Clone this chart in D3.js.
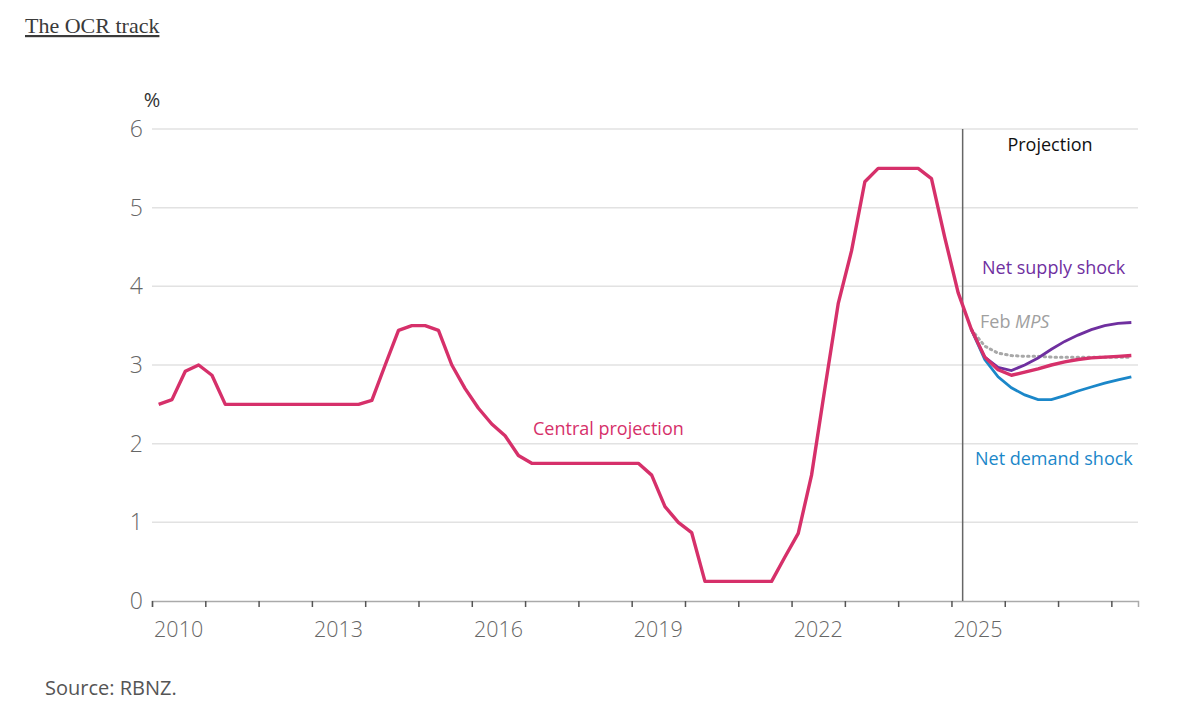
<!DOCTYPE html>
<html>
<head>
<meta charset="utf-8">
<script src="https://cdn.jsdelivr.net/npm/d3@7.9.0/dist/d3.min.js"></script>
<style>
  body { margin: 0; background: #fff; }
  svg { display: block; }
</style>
</head>
<body>
<div class="container"></div>
<script>
const width = 1203, height = 702;

// quarterly OCR, 2010 Q1 .. 2028 Q2 (central projection)
const startYear = 2010;
const central = [
  2.50, 2.56, 2.92, 3.00,   // 2010
  2.87, 2.50, 2.50, 2.50,   // 2011
  2.50, 2.50, 2.50, 2.50,   // 2012
  2.50, 2.50, 2.50, 2.50,   // 2013
  2.55, 3.00, 3.44, 3.50,   // 2014
  3.50, 3.44, 3.00, 2.70,   // 2015
  2.45, 2.25, 2.10, 1.85,   // 2016
  1.75, 1.75, 1.75, 1.75,   // 2017
  1.75, 1.75, 1.75, 1.75,   // 2018
  1.75, 1.60, 1.20, 1.00,   // 2019
  0.87, 0.25, 0.25, 0.25,   // 2020
  0.25, 0.25, 0.25, 0.56,   // 2021
  0.86, 1.60, 2.70, 3.78,   // 2022
  4.45, 5.33, 5.50, 5.50,   // 2023
  5.50, 5.50, 5.37, 4.62,   // 2024
  3.92, 3.45, 3.10, 2.94,   // 2025
  2.87, 2.91, 2.95, 3.00,   // 2026
  3.04, 3.07, 3.09, 3.10,   // 2027
  3.11, 3.12                // 2028
];

// scenarios, 2025 Q2 .. 2028 Q2
const scenarioStart = 61;
const supplyShock = [3.45, 3.10, 2.97, 2.93, 3.00, 3.09, 3.20, 3.30, 3.38, 3.45, 3.50, 3.53, 3.54];
const demandShock = [3.45, 3.07, 2.85, 2.71, 2.62, 2.56, 2.56, 2.61, 2.67, 2.72, 2.77, 2.81, 2.85];
const febMPS      = [3.45, 3.24, 3.15, 3.12, 3.11, 3.11, 3.10, 3.10, 3.10, 3.10, 3.10, 3.10, 3.10];

const projectionStart = 2025.21;
const yearTicks = d3.range(2010, 2029);
const yearLabels = [2010, 2013, 2016, 2019, 2022, 2025];
const yTicks = [0, 1, 2, 3, 4, 5, 6];

// quarter index -> mid-quarter date
const qDate = i => startYear + i / 4 + 0.125;
const toPoints = (vals, offset) => vals.map((v, i) => ({ t: qDate(i + offset), v: v }));

const svg = d3.select(".container").append("svg")
  .attr("width", width)
  .attr("height", height);

const x = d3.scaleLinear().domain([2010, 2028.5]).range([152, 1138]);
const y = d3.scaleLinear().domain([0, 6]).range([601, 129]);

const sans = "'Open Sans', 'Noto Sans', sans-serif";

// title
svg.append("text")
  .attr("x", 25).attr("y", 33)
  .attr("font-family", "'Liberation Serif', serif")
  .attr("font-size", 22)
  .attr("fill", "#3a3a3a")
  .attr("text-decoration", "underline")
  .text("The OCR track");

// gridlines
svg.append("g")
  .selectAll("line")
  .data(yTicks.filter(d => d > 0))
  .enter().append("line")
  .attr("x1", x(2010)).attr("x2", x(2028.5))
  .attr("y1", d => y(d)).attr("y2", d => y(d))
  .attr("stroke", "#e2e2e2")
  .attr("stroke-width", 1.5);

// y axis labels
const yAxis = svg.append("g")
  .attr("transform", `translate(${x(2010) - 9},0)`)
  .call(d3.axisLeft(y).tickValues(yTicks).tickSize(0).tickFormat(d3.format("d")));
yAxis.select(".domain").remove();
yAxis.selectAll("text")
  .attr("font-family", sans)
  .attr("font-size", 23)
  .attr("font-weight", 300)
  .attr("fill", "#666")
  .attr("x", 0);

svg.append("text")
  .attr("x", 152).attr("y", 107)
  .attr("text-anchor", "middle")
  .attr("font-family", sans)
  .attr("font-size", 20)
  .attr("fill", "#333")
  .text("%");

// x axis ticks
const xAxis = svg.append("g")
  .attr("transform", `translate(0,${y(0)})`)
  .call(d3.axisBottom(x).tickValues(yearTicks).tickSize(6).tickFormat(""));
xAxis.select(".domain").attr("stroke", "#aaa").attr("stroke-width", 1.5);
xAxis.selectAll(".tick line").attr("stroke", "#555").attr("stroke-width", 1.5);

// x labels centred in the year
svg.append("g")
  .selectAll("text")
  .data(yearLabels)
  .enter().append("text")
  .attr("x", d => x(d + 0.5))
  .attr("y", 637)
  .attr("text-anchor", "middle")
  .attr("font-family", sans)
  .attr("font-size", 21.5)
  .attr("font-weight", 300)
  .attr("fill", "#666")
  .text(d => d);

// projection divider
svg.append("line")
  .attr("x1", x(projectionStart)).attr("x2", x(projectionStart))
  .attr("y1", y(6)).attr("y2", y(0))
  .attr("stroke", "#666")
  .attr("stroke-width", 1.5);

const line = d3.line().x(d => x(d.t)).y(d => y(d.v));

svg.append("path")
  .datum(toPoints(febMPS, scenarioStart))
  .attr("d", line)
  .attr("fill", "none")
  .attr("stroke", "#a8a8a8")
  .attr("stroke-width", 3)
  .attr("stroke-dasharray", "1.5 4")
  .attr("stroke-linecap", "round");

svg.append("path")
  .datum(toPoints(supplyShock, scenarioStart))
  .attr("d", line)
  .attr("fill", "none")
  .attr("stroke", "#6f2f9f")
  .attr("stroke-width", 2.8);

svg.append("path")
  .datum(toPoints(demandShock, scenarioStart))
  .attr("d", line)
  .attr("fill", "none")
  .attr("stroke", "#1b87c9")
  .attr("stroke-width", 2.8);

svg.append("path")
  .datum(toPoints(central, 0))
  .attr("d", line)
  .attr("fill", "none")
  .attr("stroke", "#d6306a")
  .attr("stroke-width", 3.4)
  .attr("stroke-linejoin", "round");

// labels
const lbl = (tx, ty, txt, col, anchor) => svg.append("text")
  .attr("x", tx).attr("y", ty)
  .attr("text-anchor", anchor || "start")
  .attr("font-family", sans)
  .attr("font-size", 18)
  .attr("fill", col)
  .text(txt);

lbl(1050, 151, "Projection", "#111", "middle");
lbl(982, 274, "Net supply shock", "#6f2f9f");
lbl(975, 465, "Net demand shock", "#1b87c9");
lbl(533, 435, "Central projection", "#d6306a");

const feb = lbl(980, 328, "Feb ", "#a0a0a0");
feb.append("tspan").attr("font-style", "italic").text("MPS");

svg.append("text")
  .attr("x", 45).attr("y", 695)
  .attr("font-family", sans)
  .attr("font-size", 20)
  .attr("fill", "#555")
  .text("Source: RBNZ.");
</script>
</body>
</html>
